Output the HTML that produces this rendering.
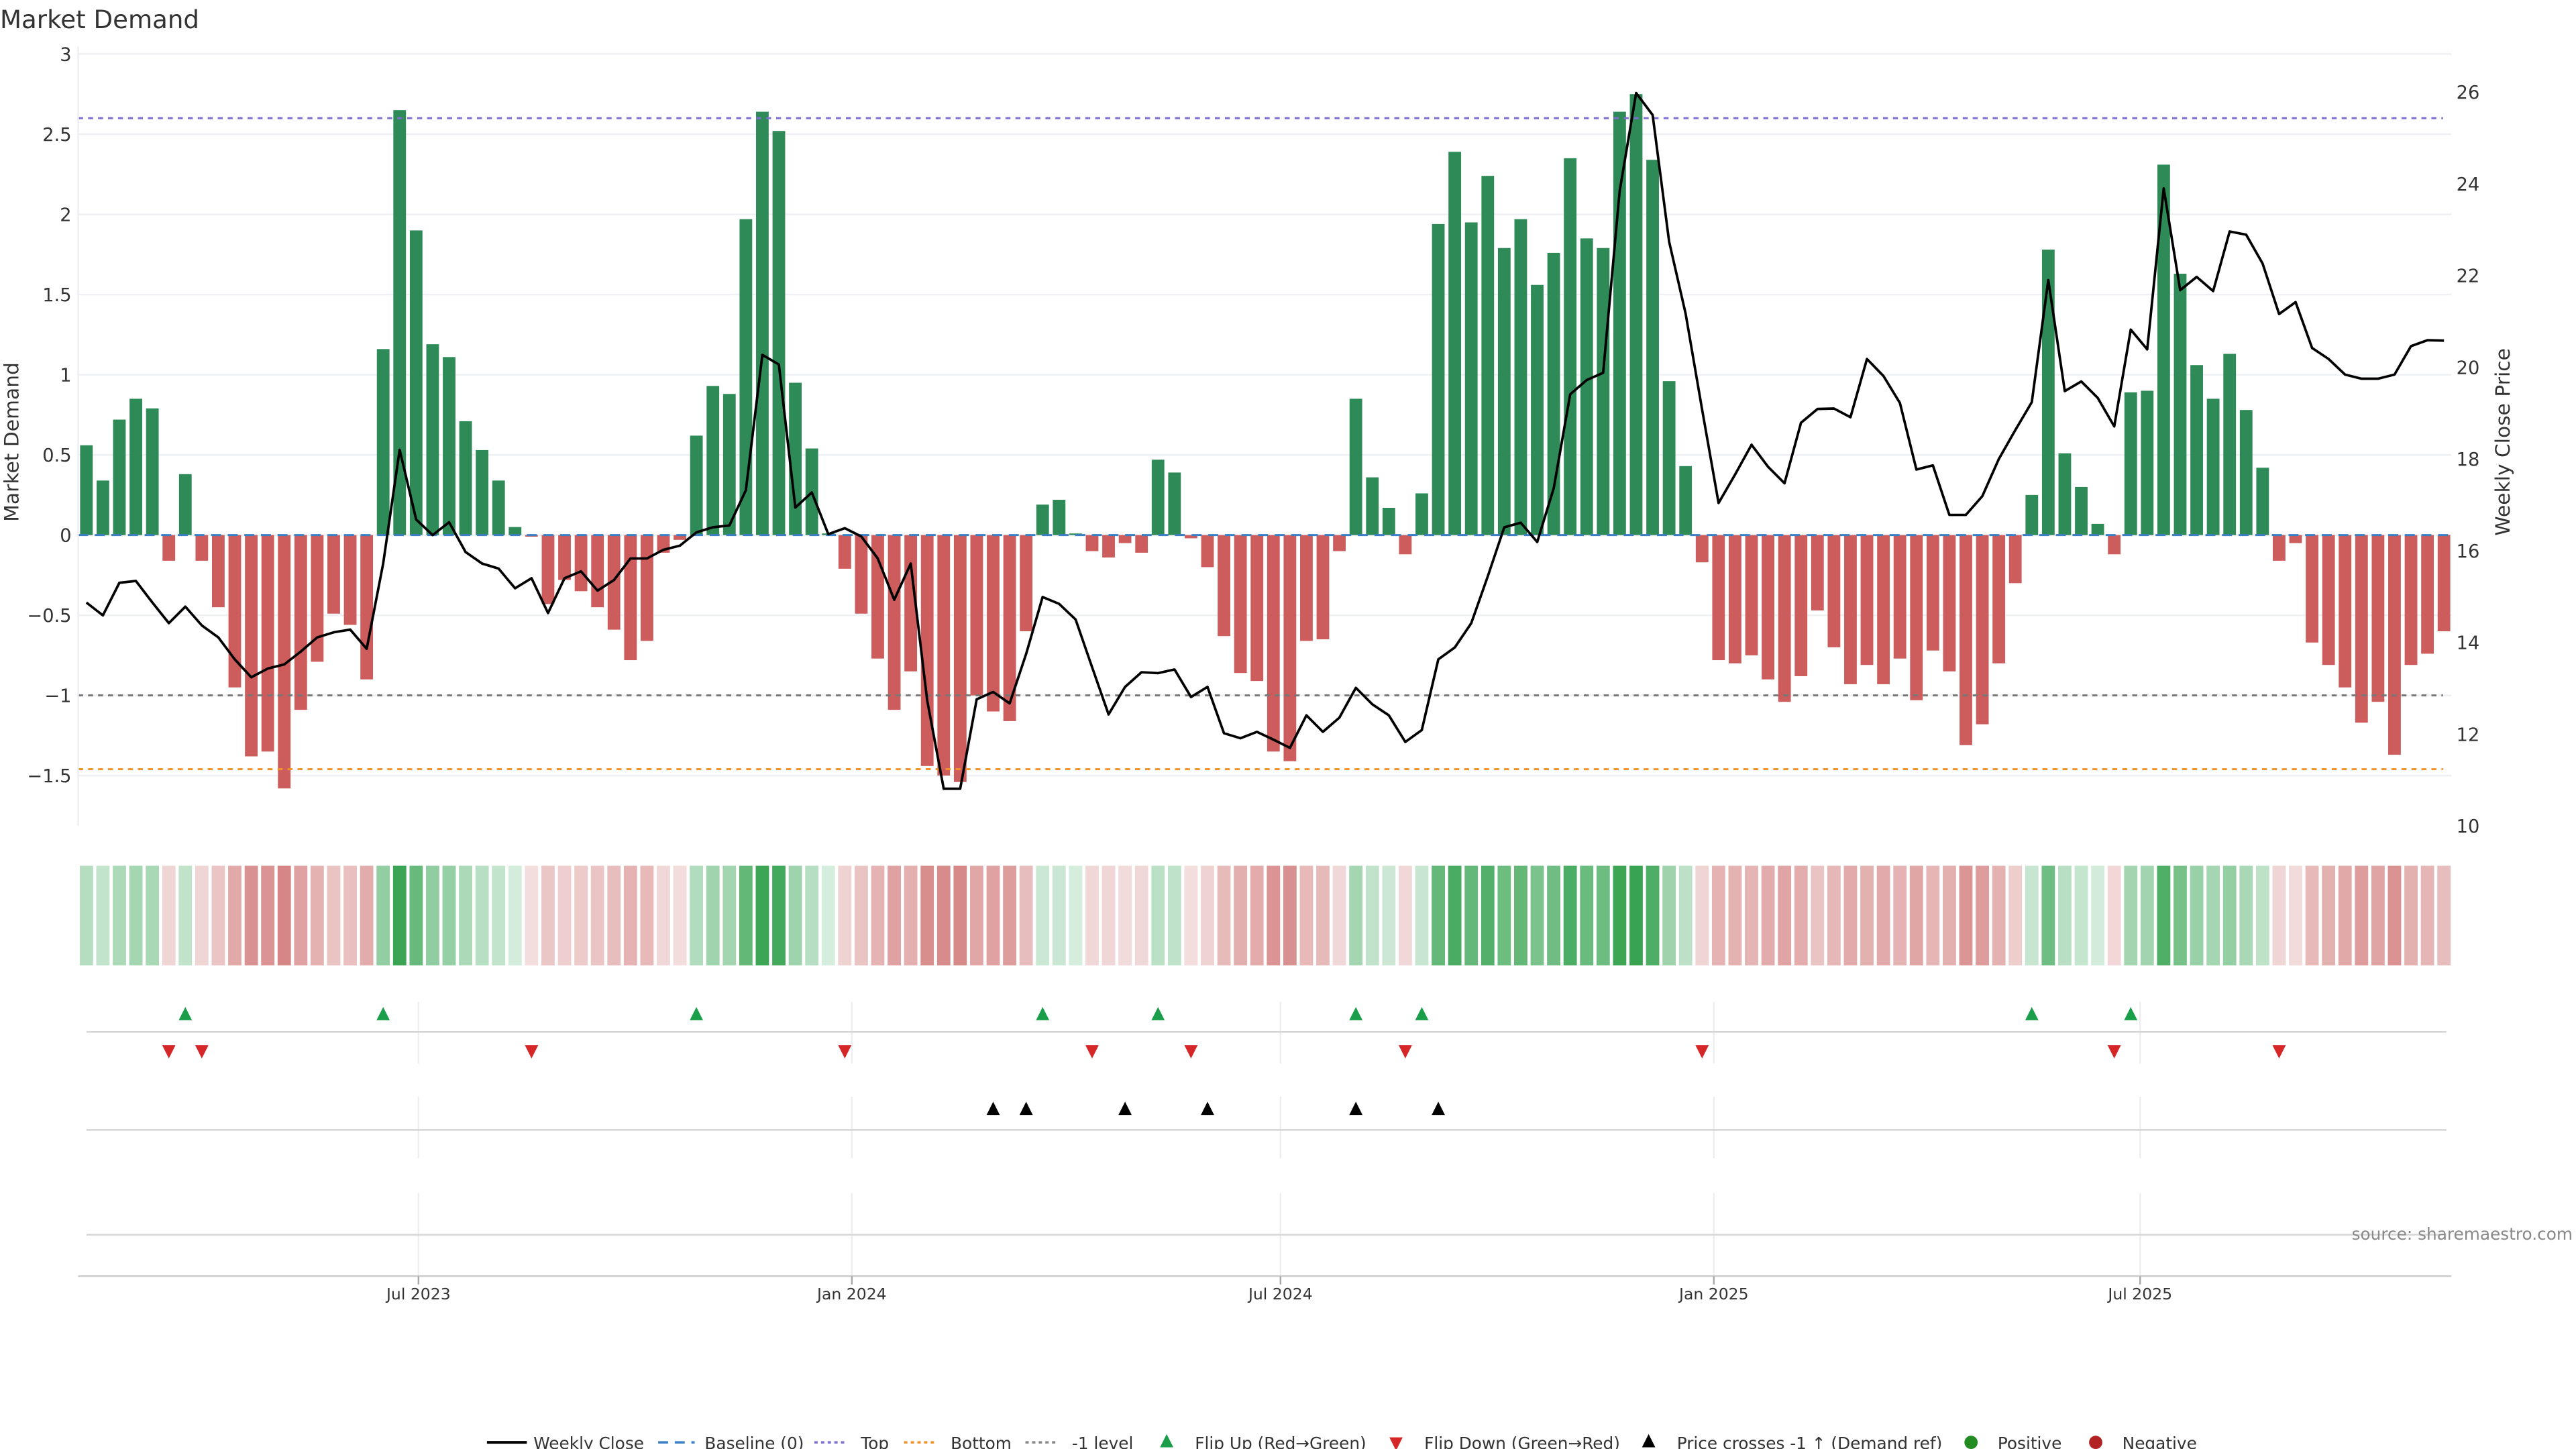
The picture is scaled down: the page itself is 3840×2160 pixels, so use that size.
<!DOCTYPE html>
<html><head><meta charset="utf-8">
<style>
html,body{margin:0;padding:0;background:#fff;}
svg{display:block;font-family:"DejaVu Sans","Liberation Sans",sans-serif;}
</style></head>
<body>
<svg id="chart" width="3840" height="2160" viewBox="0 0 1550 872" preserveAspectRatio="none" xmlns="http://www.w3.org/2000/svg">
<text x="0" y="17" font-size="15" fill="#333">Market Demand</text>
<g id="grid"></g>
<g id="bars"></g>
<g id="refs"></g>
<g id="line"></g>
<g id="strip"></g>
<g id="panels"></g>
<g id="axes"></g>
<g id="legend"></g>
<text x="1548" y="746" font-size="10" fill="#888" text-anchor="end">source: sharemaestro.com</text>
</svg>
<script>
const demand = [0.56,0.34,0.72,0.85,0.79,-0.16,0.38,-0.16,-0.45,-0.95,-1.38,-1.35,-1.58,-1.09,-0.79,-0.49,-0.56,-0.90,1.16,2.65,1.90,1.19,1.11,0.71,0.53,0.34,0.05,-0.01,-0.43,-0.28,-0.35,-0.45,-0.59,-0.78,-0.66,-0.11,-0.03,0.62,0.93,0.88,1.97,2.64,2.52,0.95,0.54,0.01,-0.21,-0.49,-0.77,-1.09,-0.85,-1.44,-1.50,-1.54,-1.00,-1.10,-1.16,-0.60,0.19,0.22,0.01,-0.10,-0.14,-0.05,-0.11,0.47,0.39,-0.02,-0.20,-0.63,-0.86,-0.91,-1.35,-1.41,-0.66,-0.65,-0.10,0.85,0.36,0.17,-0.12,0.26,1.94,2.39,1.95,2.24,1.79,1.97,1.56,1.76,2.35,1.85,1.79,2.64,2.75,2.34,0.96,0.43,-0.17,-0.78,-0.80,-0.75,-0.90,-1.04,-0.88,-0.47,-0.70,-0.93,-0.81,-0.93,-0.77,-1.03,-0.72,-0.85,-1.31,-1.18,-0.80,-0.30,0.25,1.78,0.51,0.30,0.07,-0.12,0.89,0.90,2.31,1.63,1.06,0.85,1.13,0.78,0.42,-0.16,-0.05,-0.67,-0.81,-0.95,-1.17,-1.04,-1.37,-0.81,-0.74,-0.60];
const price = [14.87,14.59,15.30,15.34,14.87,14.42,14.78,14.37,14.11,13.63,13.24,13.43,13.52,13.80,14.11,14.22,14.28,13.86,15.72,18.20,16.68,16.34,16.62,15.97,15.72,15.61,15.18,15.40,14.64,15.40,15.55,15.13,15.36,15.83,15.83,16.02,16.11,16.40,16.51,16.55,17.32,20.27,20.06,16.94,17.27,16.36,16.49,16.31,15.83,14.93,15.72,12.73,10.81,10.81,12.76,12.92,12.67,13.75,14.99,14.84,14.50,13.46,12.43,13.03,13.35,13.33,13.41,12.81,13.03,12.02,11.91,12.05,11.88,11.70,12.41,12.05,12.36,13.01,12.65,12.41,11.83,12.09,13.63,13.89,14.42,15.44,16.51,16.61,16.19,17.36,19.41,19.72,19.88,23.84,25.98,25.50,22.74,21.17,19.08,17.04,17.66,18.31,17.83,17.47,18.79,19.09,19.10,18.91,20.18,19.81,19.22,17.77,17.86,16.78,16.78,17.19,18.00,18.63,19.24,21.90,19.48,19.69,19.33,18.71,20.82,20.39,23.90,21.68,21.97,21.66,22.96,22.89,22.26,21.16,21.42,20.42,20.18,19.84,19.75,19.75,19.84,20.46,20.59,20.58];
const leftTicks = [3,2.5,2,1.5,1,0.5,0,-0.5,-1,-1.5];
const leftTickLabels = ["3","2.5","2","1.5","1","0.5","0","−0.5","−1","−1.5"];
const rightTicks = [10,12,14,16,18,20,22,24,26];
const dateTicks = ["2023-07-01","2024-01-01","2024-07-01","2025-01-01","2025-07-01"];
const dateLabels = ["Jul 2023","Jan 2024","Jul 2024","Jan 2025","Jul 2025"];
const topLevel = 2.6, bottomLevel = -1.46, minusLevel = -1;
const startDate = "2023-02-10";

const NS="http://www.w3.org/2000/svg";
const X0=52, DX=9.92;
const x = i => X0 + i*DX;
const xd = s => X0 + (Date.parse(s)-Date.parse(startDate))/(7*864e5)*DX;
const yL = v => 322 - v*96.5;
const yR = p => 497 - (p-10)*27.6;
function mk(tag, attrs, parent, text){const e=document.createElementNS(NS,tag);for(const k in attrs)e.setAttribute(k,attrs[k]);if(text!==undefined)e.textContent=text;document.getElementById(parent).appendChild(e);return e;}

// grid + ticks
leftTicks.forEach((t,i)=>{
  const g=mk('line',{x1:47,x2:1475,y1:yL(t),y2:yL(t),stroke:'#eef0f3','stroke-width':1},'grid');
  
  
  const l=mk('text',{x:43,y:yL(t)+4,'font-size':11,fill:'#333','text-anchor':'end'},'axes',leftTickLabels[i]);
  
  
});
rightTicks.forEach(t=>{
  const l=mk('text',{x:1478,y:yR(t)+4,'font-size':11,fill:'#333'},'axes',String(t));
  
  
});
mk('line',{x1:47,x2:47,y1:28,y2:497,stroke:'#eceef4'},'axes');
let t1=mk('text',{transform:'translate(11,266) rotate(-90)','font-size':12,fill:'#333','text-anchor':'middle'},'axes','Market Demand');


let t2=mk('text',{transform:'translate(1510,266) rotate(-90)','font-size':12,fill:'#333','text-anchor':'middle'},'axes','Weekly Close Price');



// bars
demand.forEach((v,i)=>{
  const y0=yL(0), y1=yL(v);
  const r=mk('rect',{x:x(i)-3.8,y:Math.min(y0,y1),width:7.6,height:Math.max(Math.abs(y1-y0),0.3),fill:v>=0?'#2e8b57':'#cd5c5c'},'bars');
  
  
});
// reference lines
let b=mk('line',{x1:47,x2:1475,y1:yL(0),y2:yL(0),stroke:'#3b7fc4','stroke-width':1.2,'stroke-dasharray':'6,4'},'refs');


let tl=mk('line',{x1:47,x2:1470,y1:yL(topLevel),y2:yL(topLevel),stroke:'#7b6fd0','stroke-width':1.2,'stroke-dasharray':'3,3'},'refs');


let bl=mk('line',{x1:47,x2:1470,y1:yL(bottomLevel),y2:yL(bottomLevel),stroke:'#f0922a','stroke-width':1.2,'stroke-dasharray':'3,3'},'refs');


let ml=mk('line',{x1:47,x2:1470,y1:yL(minusLevel),y2:yL(minusLevel),stroke:'#777','stroke-width':1.2,'stroke-dasharray':'3,3'},'refs');



// price line
const pl=mk('polyline',{points:price.map((p,i)=>x(i)+','+yR(p)).join(' '),fill:'none',stroke:'#000','stroke-width':1.5,'stroke-linejoin':'round'},'line');



// strip
function lerp(a,b,t){return a.map((v,k)=>Math.round(v+(b[k]-v)*t));}
demand.forEach((v,i)=>{
  let c;
  if(v>=0){const t=Math.min(v/2.7,1);c=lerp([214,237,222],[56,164,82],t);}
  else{const t=Math.min(-v/1.6,1);c=lerp([243,222,222],[214,133,133],t);}
  const r=mk('rect',{x:x(i)-4,y:521,width:8,height:60,fill:'rgb('+c.join(',')+')'},'strip');
  
  
});

// panels
dateTicks.forEach((d,i)=>{
  const xx=xd(d);
  [[603,640],[660,697],[718,768]].forEach(s=>mk('line',{x1:xx,x2:xx,y1:s[0],y2:s[1],stroke:'#eceef1'},'panels'));
  mk('line',{x1:xx,x2:xx,y1:768,y2:773,stroke:'#aaa'},'axes');
  const l=mk('text',{x:xx,y:782,'font-size':9.5,fill:'#333','text-anchor':'middle'},'axes',dateLabels[i]);
  
  
});
[621,680,743].forEach(y=>mk('line',{x1:52,x2:1472,y1:y,y2:y,stroke:'#d6d6d6','stroke-width':1},'panels'));
mk('line',{x1:47,x2:1475,y1:768,y2:768,stroke:'#ccc','stroke-width':1},'panels');

function tri(cx,cy,up,color,name){
  const pts=up?`${cx-4},${cy+4} ${cx+4},${cy+4} ${cx},${cy-4}`:`${cx-4},${cy-4} ${cx+4},${cy-4} ${cx},${cy+4}`;
  const t=mk('polygon',{points:pts,fill:color},'panels');
  
  
}
const crossPrice = 10 + (497 - yL(minusLevel))/27.6;
for(let i=1;i<demand.length;i++){
  if(demand[i-1]<0 && demand[i]>=0) tri(x(i),610,true,'#1a9e4a','flip-up-marker');
  if(demand[i-1]>=0 && demand[i]<0) tri(x(i),633,false,'#d62728','flip-down-marker');
  if(price[i-1]<crossPrice && price[i]>=crossPrice && price[i-1]>11) tri(x(i),667,true,'#000','price-cross-marker');
}

// legend
const legendNames=["Weekly Close","Baseline (0)","Top","Bottom","-1 level","Flip Up (Red→Green)","Flip Down (Green→Red)","Price crosses -1 ↑ (Demand ref)","Positive","Negative"];
const legendX=[293,396,490,544,617,697,835,987,1181,1256];
legendNames.forEach((n,i)=>{
  const lx=legendX[i], ly=868;
  const g=document.createElementNS(NS,'g');
  
  
  document.getElementById('legend').appendChild(g);
  const add=(tag,a)=>{const e=document.createElementNS(NS,tag);for(const k in a)e.setAttribute(k,a[k]);g.appendChild(e);return e;};
  let tx=lx+28;
  if(i===0) add('line',{x1:lx,x2:lx+24,y1:ly,y2:ly,stroke:'#000','stroke-width':1.6});
  else if(i===1) add('line',{x1:lx,x2:lx+22,y1:ly,y2:ly,stroke:'#3b7fc4','stroke-width':1.4,'stroke-dasharray':'6,4'});
  else if(i>=2&&i<=4) add('line',{x1:lx,x2:lx+20,y1:ly,y2:ly,stroke:['#7b6fd0','#f0922a','#888'][i-2],'stroke-width':1.4,'stroke-dasharray':'2,2'});
  else if(i===5){add('polygon',{points:`${lx+1},${ly+3} ${lx+9},${ly+3} ${lx+5},${ly-5}`,fill:'#1a9e4a'});tx=lx+22;}
  else if(i===6){add('polygon',{points:`${lx+1},${ly-3} ${lx+9},${ly-3} ${lx+5},${ly+5}`,fill:'#d62728'});tx=lx+22;}
  else if(i===7){add('polygon',{points:`${lx+1},${ly+3} ${lx+9},${ly+3} ${lx+5},${ly-5}`,fill:'#000'});tx=lx+22;}
  else {add('circle',{cx:lx+5,cy:ly,r:4,fill:i===8?'#228b22':'#b22222'});tx=lx+21;}
  const t=add('text',{x:tx,y:ly+4,'font-size':10,fill:'#333'});
  t.textContent=n;
});
</script>
</body></html>
